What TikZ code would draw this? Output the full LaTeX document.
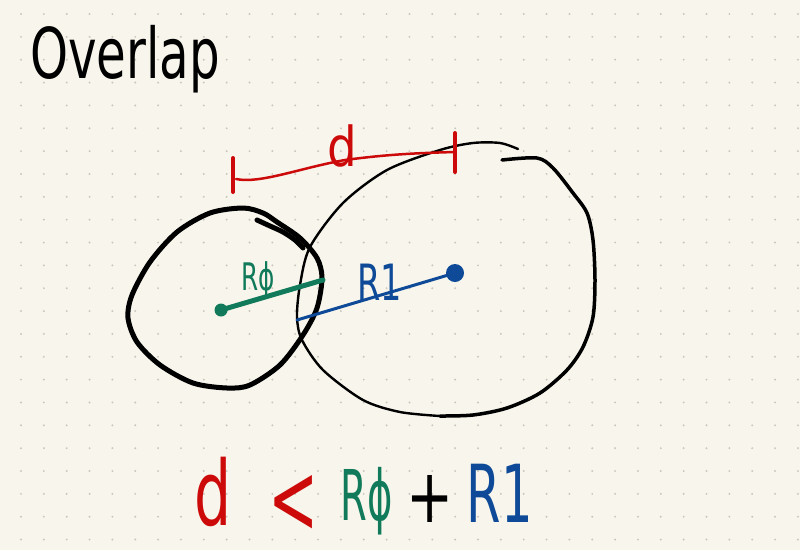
\documentclass[tikz,border=0pt]{standalone}
\usepackage{fontspec}
\setmainfont{DejaVu Sans}

\definecolor{paper}{HTML}{F8F6EC}
\definecolor{griddot}{HTML}{C9C7BE}
\definecolor{dred}{HTML}{CC0A0A}
\definecolor{rgreen}{HTML}{107A5A}
\definecolor{rblue}{HTML}{0E4A98}

\tikzset{
  hand/.style={inner sep=0pt, anchor=base},
  centre/.style={circle, fill, inner sep=0pt, minimum size=#1},
}

\begin{document}
\begin{tikzpicture}[x=1pt, y=-1pt, line cap=round, line join=round]

    % Add the paper
    \fill[paper] (0,0) rectangle (800,550);
    \useasboundingbox (0,0) rectangle (800,550);
    \foreach \i in {0,...,34}
      \foreach \j in {0,...,23}
        \fill[griddot] (21+22.85*\i, 14+22.85*\j) circle (1.1);

    % Add the title
    \node[hand, anchor=base west, xscale=.69, font=\fontsize{70}{70}\selectfont] (title) at (30,78) {Overlap};

    % Add the circles
    \draw[line width=5pt] plot[smooth cycle] coordinates {(243,208) (263,213) (277,222) (300,238) (317,258) (322,278) (317,308) (303,335) (280,365) (250,385) (227,388) (193,383) (160,365) (137,342) (128,318) (132,295) (150,262) (177,232) (210,213)};
    \draw[line width=5pt] plot[smooth] coordinates {(257,220) (270,226) (283,232) (295,240) (303,248)};
    \draw[line width=3.5pt] plot[smooth] coordinates {(502,160) (537,158) (553,168) (573,193) (587,213) (593,240) (595,280) (593,317) (583,347) (567,370) (540,393) (507,408) (473,415) (440,416)};
    \draw[line width=2.4pt] plot[smooth] coordinates {(440,416) (400,412) (363,400) (323,370) (302,340) (297,317) (300,285) (310,247) (343,203) (387,170) (440,150) (473,143) (500,143) (518,149)};

    % Add the centres and the radii
    \node[centre=13pt, fill=rgreen] (c0) at (221,310) {};
    \node[centre=18pt, fill=rblue]  (c1) at (455,273) {};
    \coordinate (e0) at (323,280);
    \coordinate (e1) at (297,320);
    \draw[rgreen, line width=5pt] (c0.center) -- (e0);
    \draw[rblue, line width=3pt]  (e1) -- (c1.center);
    \node[hand, text=rgreen, xscale=.65, font=\fontsize{38}{38}\selectfont] (lr0) at (258,290) {Rϕ};
    \node[hand, text=rblue, xscale=.67, font=\fontsize{50}{50}\selectfont]  (lr1) at (380,300) {R1};

    % Add the distance
    \coordinate (dl) at (236,179);
    \coordinate (dr) at (455,152);
    \draw[dred, line width=4pt] (233,158) -- (233,192);
    \draw[dred, line width=4pt] (455,133) -- (455,172);
    \draw[dred, line width=2.5pt] (dl) .. controls (260,184) and (300,168) .. (345,160)
                                       .. controls (390,154) and (420,153) .. (dr);
    \node[hand, text=dred, xscale=.85, font=\fontsize{55}{55}\selectfont] (ld) at (342,166) {d};

    % Add the inequality
    \node[hand, text=dred, xscale=.65, font=\fontsize{90}{90}\selectfont]   (qd)    at (213,525) {d};
    \node[hand, text=dred, xscale=.6, font=\fontsize{100}{100}\selectfont]  (qlt)   at (294,533) {<};
    \node[hand, text=rgreen, xscale=.55, font=\fontsize{70}{70}\selectfont] (qr0)   at (367,520) {Rϕ};
    \node[hand, text=black, xscale=.75, font=\fontsize{75}{75}\selectfont]  (qplus) at (430,522) {+};
    \node[hand, text=rblue, xscale=.62, font=\fontsize{80}{80}\selectfont]  (qr1)   at (500,522) {R1};

\end{tikzpicture}
\end{document}
